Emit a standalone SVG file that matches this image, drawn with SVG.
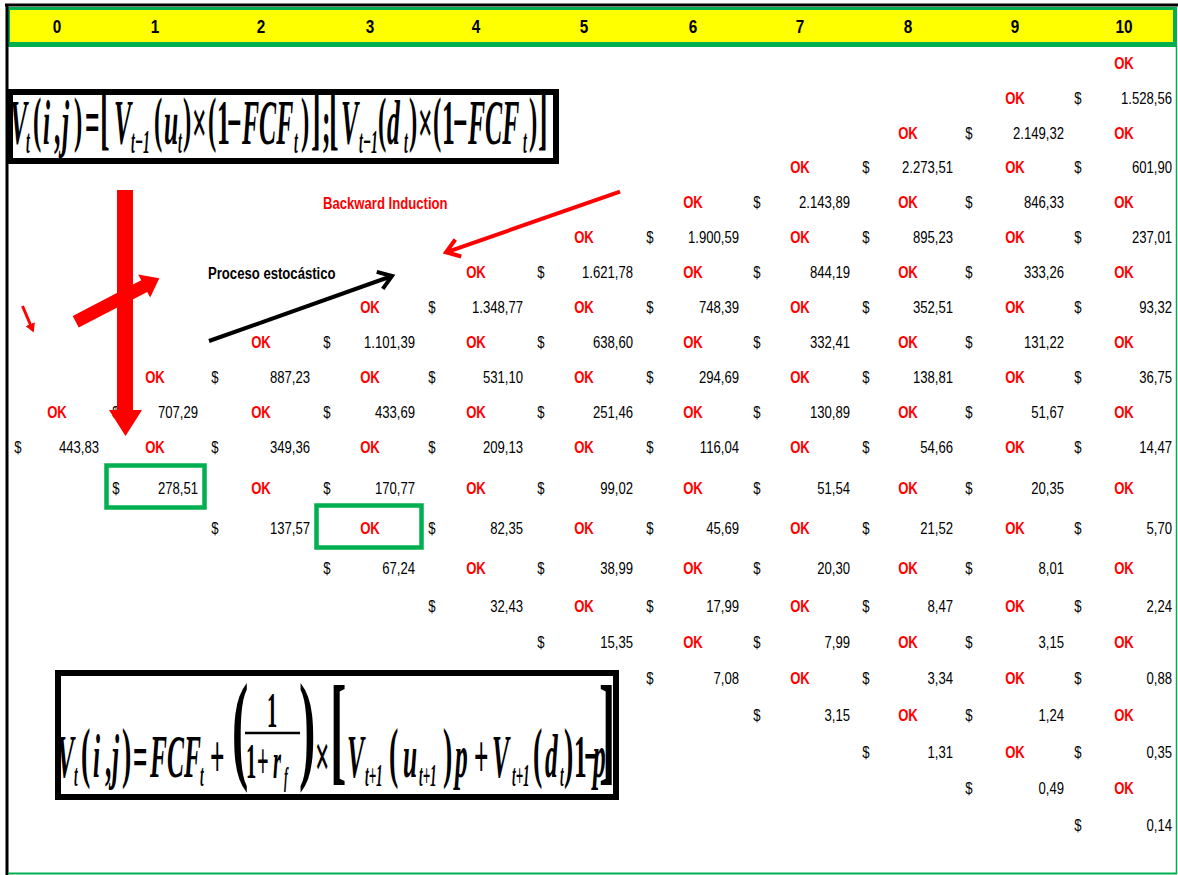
<svg xmlns="http://www.w3.org/2000/svg" width="1178" height="875" viewBox="0 0 1178 875">
<style>
.ok{font-family:"Liberation Sans",Arial,sans-serif;font-weight:bold;font-size:16px;fill:#FF0000;text-anchor:middle}
.d{font-family:"Liberation Sans",Arial,sans-serif;font-size:16px;fill:#000;text-anchor:middle}
.n{font-family:"Liberation Sans",Arial,sans-serif;font-size:16px;fill:#000;text-anchor:end}
.h{font-family:"Liberation Sans",Arial,sans-serif;font-weight:bold;font-size:18px;fill:#000;text-anchor:middle}
.lab{font-family:"Liberation Sans",Arial,sans-serif;font-weight:bold;font-size:16px}
.fi{font-family:"Liberation Serif","Times New Roman",serif;font-style:italic;font-weight:bold;fill:#000}
.fu{font-family:"Liberation Serif","Times New Roman",serif;font-weight:bold;fill:#000}
.box{fill:#fff;stroke:#000}
.hl{fill:none;stroke:#00B050;stroke-width:4.5}
</style>
<defs>
<marker id="chevBlack" markerUnits="userSpaceOnUse" markerWidth="24" markerHeight="24" refX="16" refY="12" orient="auto" viewBox="0 0 24 24"><path d="M3,3 L16,12 L3,21" fill="none" stroke="#000" stroke-width="4"/></marker>
<marker id="chevRed" markerUnits="userSpaceOnUse" markerWidth="24" markerHeight="24" refX="16" refY="12" orient="auto" viewBox="0 0 24 24"><path d="M3,3 L16,12 L3,21" fill="none" stroke="#FF0000" stroke-width="4"/></marker>
<marker id="triRed" markerUnits="userSpaceOnUse" markerWidth="10" markerHeight="10" refX="2" refY="5" orient="auto" viewBox="0 0 10 10"><path d="M0,0 L9,5 L0,10 Z" fill="#FF0000"/></marker>
</defs>
<rect width="1178" height="875" fill="#fff"/>
<g id="frame">
<rect x="8" y="7" width="1169" height="40" fill="#00B050"/>
<rect x="10" y="10" width="1163" height="32" fill="#FFFF00"/>
<line x1="5" y1="5" x2="1178" y2="5" stroke="#000" stroke-width="3"/>
<line x1="7" y1="4" x2="7" y2="875" stroke="#000" stroke-width="3"/>
<line x1="1176.5" y1="46" x2="1176.5" y2="874" stroke="#00B050" stroke-width="1.5"/>
<line x1="8" y1="873.5" x2="1177" y2="873.5" stroke="#00B050" stroke-width="2"/>
</g>
<g id="header">
<text class="h" transform="translate(57 33)scale(.85 1)">0</text>
<text class="h" transform="translate(155 33)scale(.85 1)">1</text>
<text class="h" transform="translate(261 33)scale(.85 1)">2</text>
<text class="h" transform="translate(370 33)scale(.85 1)">3</text>
<text class="h" transform="translate(476 33)scale(.85 1)">4</text>
<text class="h" transform="translate(584 33)scale(.85 1)">5</text>
<text class="h" transform="translate(693 33)scale(.85 1)">6</text>
<text class="h" transform="translate(800 33)scale(.85 1)">7</text>
<text class="h" transform="translate(908 33)scale(.85 1)">8</text>
<text class="h" transform="translate(1015 33)scale(.85 1)">9</text>
<text class="h" transform="translate(1124 33)scale(.85 1)">10</text>
</g>
<g id="formula-top">
<rect class="box" x="10" y="92" width="546" height="69" stroke-width="6"/>
<text class="fi" font-size="64" transform="translate(10 144)scale(.4 1)">V</text>
<text class="fi" font-size="34" transform="translate(26 153)scale(.4 1)">t</text>
<text class="fu" font-size="62" transform="translate(33 140)scale(.4 1)">(</text>
<text class="fi" font-size="64" transform="translate(43 144)scale(.4 1)">i</text>
<text class="fu" font-size="64" transform="translate(54 144)scale(.4 1)">,</text>
<text class="fi" font-size="64" transform="translate(62 144)scale(.4 1)">j</text>
<text class="fu" font-size="62" transform="translate(74 140)scale(.4 1)">)</text>
<text class="fu" font-size="64" transform="translate(85 144)scale(.4 1)">=</text>
<text class="fu" font-size="72" transform="translate(100 141)scale(.4 1)">[</text>
<text class="fi" font-size="64" transform="translate(114 144)scale(.4 1)">V</text>
<text class="fi" font-size="34" transform="translate(131 153)scale(.4 1)">t−1</text>
<text class="fu" font-size="62" transform="translate(154 140)scale(.4 1)">(</text>
<text class="fi" font-size="64" transform="translate(164 144)scale(.4 1)">u</text>
<text class="fi" font-size="34" transform="translate(178 153)scale(.4 1)">t</text>
<text class="fu" font-size="62" transform="translate(183 140)scale(.4 1)">)</text>
<text class="fu" font-size="64" transform="translate(192 144)scale(.4 1)">×</text>
<text class="fu" font-size="62" transform="translate(208 140)scale(.4 1)">(</text>
<text class="fu" font-size="64" transform="translate(217 144)scale(.4 1)">1</text>
<text class="fu" font-size="64" transform="translate(227 144)scale(.4 1)">−</text>
<text class="fi" font-size="64" transform="translate(242 144)scale(.4 1)">FCF</text>
<text class="fi" font-size="34" transform="translate(294 153)scale(.4 1)">t</text>
<text class="fu" font-size="62" transform="translate(301 140)scale(.4 1)">)</text>
<text class="fu" font-size="72" transform="translate(311 141)scale(.4 1)">]</text>
<text class="fu" font-size="64" transform="translate(322 144)scale(.4 1)">;</text>
<text class="fu" font-size="72" transform="translate(329 141)scale(.4 1)">[</text>
<text class="fi" font-size="64" transform="translate(341 144)scale(.4 1)">V</text>
<text class="fi" font-size="34" transform="translate(359 153)scale(.4 1)">t−1</text>
<text class="fu" font-size="62" transform="translate(378 140)scale(.4 1)">(</text>
<text class="fi" font-size="64" transform="translate(387 144)scale(.4 1)">d</text>
<text class="fi" font-size="34" transform="translate(404 153)scale(.4 1)">t</text>
<text class="fu" font-size="62" transform="translate(409 140)scale(.4 1)">)</text>
<text class="fu" font-size="64" transform="translate(418 144)scale(.4 1)">×</text>
<text class="fu" font-size="62" transform="translate(433 140)scale(.4 1)">(</text>
<text class="fu" font-size="64" transform="translate(442 144)scale(.4 1)">1</text>
<text class="fu" font-size="64" transform="translate(453 144)scale(.4 1)">−</text>
<text class="fi" font-size="64" transform="translate(468 144)scale(.4 1)">FCF</text>
<text class="fi" font-size="34" transform="translate(523 153)scale(.4 1)">t</text>
<text class="fu" font-size="62" transform="translate(529 140)scale(.4 1)">)</text>
<text class="fu" font-size="72" transform="translate(538 141)scale(.4 1)">]</text>
</g>
<g id="formula-bottom">
<rect class="box" x="58" y="673" width="558" height="124" stroke-width="6"/>
<text class="fi" font-size="62" transform="translate(57 777)scale(.41 1)">V</text>
<text class="fi" font-size="32" transform="translate(74 786)scale(.41 1)">t</text>
<text class="fu" font-size="68" transform="translate(81 775)scale(.41 1)">(</text>
<text class="fi" font-size="62" transform="translate(93 777)scale(.41 1)">i</text>
<text class="fu" font-size="62" transform="translate(105 777)scale(.41 1)">,</text>
<text class="fi" font-size="62" transform="translate(112 777)scale(.41 1)">j</text>
<text class="fu" font-size="68" transform="translate(122 775)scale(.41 1)">)</text>
<text class="fu" font-size="62" transform="translate(133 777)scale(.41 1)">=</text>
<text class="fi" font-size="62" transform="translate(150 777)scale(.41 1)">FCF</text>
<text class="fi" font-size="32" transform="translate(200 786)scale(.41 1)">t</text>
<text class="fu" font-size="62" transform="translate(210 777)scale(.41 1)">+</text>
<text class="fu" font-size="120" transform="translate(232 767)scale(.41 1)">(</text>
<text class="fu" font-size="50" transform="translate(267 727)scale(.41 1)">1</text>
<line x1="245" y1="733" x2="300" y2="733" stroke="#000" stroke-width="2.5"/>
<text class="fu" font-size="50" transform="translate(246 778)scale(.41 1)">1</text>
<text class="fu" font-size="50" transform="translate(257 778)scale(.41 1)">+</text>
<text class="fi" font-size="50" transform="translate(273 778)scale(.41 1)">r</text>
<text class="fi" font-size="28" transform="translate(284 786)scale(.41 1)">f</text>
<text class="fu" font-size="120" transform="translate(299 767)scale(.41 1)">)</text>
<text class="fu" font-size="62" transform="translate(315 777)scale(.41 1)">×</text>
<text class="fu" font-size="120" transform="translate(330 769)scale(.41 1)">[</text>
<text class="fi" font-size="62" transform="translate(347 777)scale(.41 1)">V</text>
<text class="fi" font-size="32" transform="translate(365 786)scale(.41 1)">t+1</text>
<text class="fu" font-size="68" transform="translate(389 775)scale(.41 1)">(</text>
<text class="fi" font-size="62" transform="translate(403 777)scale(.41 1)">u</text>
<text class="fi" font-size="32" transform="translate(419 786)scale(.41 1)">t+1</text>
<text class="fu" font-size="68" transform="translate(443 775)scale(.41 1)">)</text>
<text class="fi" font-size="62" transform="translate(455 777)scale(.41 1)">p</text>
<text class="fu" font-size="62" transform="translate(474 777)scale(.41 1)">+</text>
<text class="fi" font-size="62" transform="translate(492 777)scale(.41 1)">V</text>
<text class="fi" font-size="32" transform="translate(512 786)scale(.41 1)">t+1</text>
<text class="fu" font-size="68" transform="translate(533 775)scale(.41 1)">(</text>
<text class="fi" font-size="62" transform="translate(545 777)scale(.41 1)">d</text>
<text class="fi" font-size="32" transform="translate(560 786)scale(.41 1)">t</text>
<text class="fu" font-size="68" transform="translate(564 775)scale(.41 1)">)</text>
<text class="fu" font-size="62" transform="translate(574 777)scale(.41 1)">1</text>
<text class="fu" font-size="62" transform="translate(584 777)scale(.41 1)">−</text>
<text class="fi" font-size="62" transform="translate(593 777)scale(.41 1)">p</text>
<text class="fu" font-size="120" transform="translate(599 769)scale(.41 1)">]</text>
</g>
<g id="period-0">
<text class="ok" transform="translate(57 418)scale(.82 1)">OK</text>
<text class="d" transform="translate(18 453)scale(.82 1)">$</text><text class="n" transform="translate(99 453)scale(.82 1)">443,83</text>
</g>
<g id="period-1">
<text class="ok" transform="translate(155 383)scale(.82 1)">OK</text>
<text class="d" transform="translate(116 418)scale(.82 1)">$</text><text class="n" transform="translate(198 418)scale(.82 1)">707,29</text>
<text class="ok" transform="translate(155 453)scale(.82 1)">OK</text>
<text class="d" transform="translate(116 494)scale(.82 1)">$</text><text class="n" transform="translate(198 494)scale(.82 1)">278,51</text>
</g>
<g id="period-2">
<text class="ok" transform="translate(261 348)scale(.82 1)">OK</text>
<text class="d" transform="translate(215 383)scale(.82 1)">$</text><text class="n" transform="translate(310 383)scale(.82 1)">887,23</text>
<text class="ok" transform="translate(261 418)scale(.82 1)">OK</text>
<text class="d" transform="translate(215 453)scale(.82 1)">$</text><text class="n" transform="translate(310 453)scale(.82 1)">349,36</text>
<text class="ok" transform="translate(261 494)scale(.82 1)">OK</text>
<text class="d" transform="translate(215 534)scale(.82 1)">$</text><text class="n" transform="translate(310 534)scale(.82 1)">137,57</text>
</g>
<g id="period-3">
<text class="ok" transform="translate(370 313)scale(.82 1)">OK</text>
<text class="d" transform="translate(327 348)scale(.82 1)">$</text><text class="n" transform="translate(415 348)scale(.82 1)">1.101,39</text>
<text class="ok" transform="translate(370 383)scale(.82 1)">OK</text>
<text class="d" transform="translate(327 418)scale(.82 1)">$</text><text class="n" transform="translate(415 418)scale(.82 1)">433,69</text>
<text class="ok" transform="translate(370 453)scale(.82 1)">OK</text>
<text class="d" transform="translate(327 494)scale(.82 1)">$</text><text class="n" transform="translate(415 494)scale(.82 1)">170,77</text>
<text class="ok" transform="translate(370 534)scale(.82 1)">OK</text>
<text class="d" transform="translate(327 574)scale(.82 1)">$</text><text class="n" transform="translate(415 574)scale(.82 1)">67,24</text>
</g>
<g id="period-4">
<text class="ok" transform="translate(476 278)scale(.82 1)">OK</text>
<text class="d" transform="translate(432 313)scale(.82 1)">$</text><text class="n" transform="translate(523 313)scale(.82 1)">1.348,77</text>
<text class="ok" transform="translate(476 348)scale(.82 1)">OK</text>
<text class="d" transform="translate(432 383)scale(.82 1)">$</text><text class="n" transform="translate(523 383)scale(.82 1)">531,10</text>
<text class="ok" transform="translate(476 418)scale(.82 1)">OK</text>
<text class="d" transform="translate(432 453)scale(.82 1)">$</text><text class="n" transform="translate(523 453)scale(.82 1)">209,13</text>
<text class="ok" transform="translate(476 494)scale(.82 1)">OK</text>
<text class="d" transform="translate(432 534)scale(.82 1)">$</text><text class="n" transform="translate(523 534)scale(.82 1)">82,35</text>
<text class="ok" transform="translate(476 574)scale(.82 1)">OK</text>
<text class="d" transform="translate(432 612)scale(.82 1)">$</text><text class="n" transform="translate(523 612)scale(.82 1)">32,43</text>
</g>
<g id="period-5">
<text class="ok" transform="translate(584 243)scale(.82 1)">OK</text>
<text class="d" transform="translate(541 278)scale(.82 1)">$</text><text class="n" transform="translate(633 278)scale(.82 1)">1.621,78</text>
<text class="ok" transform="translate(584 313)scale(.82 1)">OK</text>
<text class="d" transform="translate(541 348)scale(.82 1)">$</text><text class="n" transform="translate(633 348)scale(.82 1)">638,60</text>
<text class="ok" transform="translate(584 383)scale(.82 1)">OK</text>
<text class="d" transform="translate(541 418)scale(.82 1)">$</text><text class="n" transform="translate(633 418)scale(.82 1)">251,46</text>
<text class="ok" transform="translate(584 453)scale(.82 1)">OK</text>
<text class="d" transform="translate(541 494)scale(.82 1)">$</text><text class="n" transform="translate(633 494)scale(.82 1)">99,02</text>
<text class="ok" transform="translate(584 534)scale(.82 1)">OK</text>
<text class="d" transform="translate(541 574)scale(.82 1)">$</text><text class="n" transform="translate(633 574)scale(.82 1)">38,99</text>
<text class="ok" transform="translate(584 612)scale(.82 1)">OK</text>
<text class="d" transform="translate(541 648)scale(.82 1)">$</text><text class="n" transform="translate(633 648)scale(.82 1)">15,35</text>
</g>
<g id="period-6">
<text class="ok" transform="translate(693 208)scale(.82 1)">OK</text>
<text class="d" transform="translate(650 243)scale(.82 1)">$</text><text class="n" transform="translate(739 243)scale(.82 1)">1.900,59</text>
<text class="ok" transform="translate(693 278)scale(.82 1)">OK</text>
<text class="d" transform="translate(650 313)scale(.82 1)">$</text><text class="n" transform="translate(739 313)scale(.82 1)">748,39</text>
<text class="ok" transform="translate(693 348)scale(.82 1)">OK</text>
<text class="d" transform="translate(650 383)scale(.82 1)">$</text><text class="n" transform="translate(739 383)scale(.82 1)">294,69</text>
<text class="ok" transform="translate(693 418)scale(.82 1)">OK</text>
<text class="d" transform="translate(650 453)scale(.82 1)">$</text><text class="n" transform="translate(739 453)scale(.82 1)">116,04</text>
<text class="ok" transform="translate(693 494)scale(.82 1)">OK</text>
<text class="d" transform="translate(650 534)scale(.82 1)">$</text><text class="n" transform="translate(739 534)scale(.82 1)">45,69</text>
<text class="ok" transform="translate(693 574)scale(.82 1)">OK</text>
<text class="d" transform="translate(650 612)scale(.82 1)">$</text><text class="n" transform="translate(739 612)scale(.82 1)">17,99</text>
<text class="ok" transform="translate(693 648)scale(.82 1)">OK</text>
<text class="d" transform="translate(650 684)scale(.82 1)">$</text><text class="n" transform="translate(739 684)scale(.82 1)">7,08</text>
</g>
<g id="period-7">
<text class="ok" transform="translate(800 173)scale(.82 1)">OK</text>
<text class="d" transform="translate(757 208)scale(.82 1)">$</text><text class="n" transform="translate(850 208)scale(.82 1)">2.143,89</text>
<text class="ok" transform="translate(800 243)scale(.82 1)">OK</text>
<text class="d" transform="translate(757 278)scale(.82 1)">$</text><text class="n" transform="translate(850 278)scale(.82 1)">844,19</text>
<text class="ok" transform="translate(800 313)scale(.82 1)">OK</text>
<text class="d" transform="translate(757 348)scale(.82 1)">$</text><text class="n" transform="translate(850 348)scale(.82 1)">332,41</text>
<text class="ok" transform="translate(800 383)scale(.82 1)">OK</text>
<text class="d" transform="translate(757 418)scale(.82 1)">$</text><text class="n" transform="translate(850 418)scale(.82 1)">130,89</text>
<text class="ok" transform="translate(800 453)scale(.82 1)">OK</text>
<text class="d" transform="translate(757 494)scale(.82 1)">$</text><text class="n" transform="translate(850 494)scale(.82 1)">51,54</text>
<text class="ok" transform="translate(800 534)scale(.82 1)">OK</text>
<text class="d" transform="translate(757 574)scale(.82 1)">$</text><text class="n" transform="translate(850 574)scale(.82 1)">20,30</text>
<text class="ok" transform="translate(800 612)scale(.82 1)">OK</text>
<text class="d" transform="translate(757 648)scale(.82 1)">$</text><text class="n" transform="translate(850 648)scale(.82 1)">7,99</text>
<text class="ok" transform="translate(800 684)scale(.82 1)">OK</text>
<text class="d" transform="translate(757 721)scale(.82 1)">$</text><text class="n" transform="translate(850 721)scale(.82 1)">3,15</text>
</g>
<g id="period-8">
<text class="ok" transform="translate(908 139)scale(.82 1)">OK</text>
<text class="d" transform="translate(866 173)scale(.82 1)">$</text><text class="n" transform="translate(953 173)scale(.82 1)">2.273,51</text>
<text class="ok" transform="translate(908 208)scale(.82 1)">OK</text>
<text class="d" transform="translate(866 243)scale(.82 1)">$</text><text class="n" transform="translate(953 243)scale(.82 1)">895,23</text>
<text class="ok" transform="translate(908 278)scale(.82 1)">OK</text>
<text class="d" transform="translate(866 313)scale(.82 1)">$</text><text class="n" transform="translate(953 313)scale(.82 1)">352,51</text>
<text class="ok" transform="translate(908 348)scale(.82 1)">OK</text>
<text class="d" transform="translate(866 383)scale(.82 1)">$</text><text class="n" transform="translate(953 383)scale(.82 1)">138,81</text>
<text class="ok" transform="translate(908 418)scale(.82 1)">OK</text>
<text class="d" transform="translate(866 453)scale(.82 1)">$</text><text class="n" transform="translate(953 453)scale(.82 1)">54,66</text>
<text class="ok" transform="translate(908 494)scale(.82 1)">OK</text>
<text class="d" transform="translate(866 534)scale(.82 1)">$</text><text class="n" transform="translate(953 534)scale(.82 1)">21,52</text>
<text class="ok" transform="translate(908 574)scale(.82 1)">OK</text>
<text class="d" transform="translate(866 612)scale(.82 1)">$</text><text class="n" transform="translate(953 612)scale(.82 1)">8,47</text>
<text class="ok" transform="translate(908 648)scale(.82 1)">OK</text>
<text class="d" transform="translate(866 684)scale(.82 1)">$</text><text class="n" transform="translate(953 684)scale(.82 1)">3,34</text>
<text class="ok" transform="translate(908 721)scale(.82 1)">OK</text>
<text class="d" transform="translate(866 758)scale(.82 1)">$</text><text class="n" transform="translate(953 758)scale(.82 1)">1,31</text>
</g>
<g id="period-9">
<text class="ok" transform="translate(1015 104)scale(.82 1)">OK</text>
<text class="d" transform="translate(969 139)scale(.82 1)">$</text><text class="n" transform="translate(1064 139)scale(.82 1)">2.149,32</text>
<text class="ok" transform="translate(1015 173)scale(.82 1)">OK</text>
<text class="d" transform="translate(969 208)scale(.82 1)">$</text><text class="n" transform="translate(1064 208)scale(.82 1)">846,33</text>
<text class="ok" transform="translate(1015 243)scale(.82 1)">OK</text>
<text class="d" transform="translate(969 278)scale(.82 1)">$</text><text class="n" transform="translate(1064 278)scale(.82 1)">333,26</text>
<text class="ok" transform="translate(1015 313)scale(.82 1)">OK</text>
<text class="d" transform="translate(969 348)scale(.82 1)">$</text><text class="n" transform="translate(1064 348)scale(.82 1)">131,22</text>
<text class="ok" transform="translate(1015 383)scale(.82 1)">OK</text>
<text class="d" transform="translate(969 418)scale(.82 1)">$</text><text class="n" transform="translate(1064 418)scale(.82 1)">51,67</text>
<text class="ok" transform="translate(1015 453)scale(.82 1)">OK</text>
<text class="d" transform="translate(969 494)scale(.82 1)">$</text><text class="n" transform="translate(1064 494)scale(.82 1)">20,35</text>
<text class="ok" transform="translate(1015 534)scale(.82 1)">OK</text>
<text class="d" transform="translate(969 574)scale(.82 1)">$</text><text class="n" transform="translate(1064 574)scale(.82 1)">8,01</text>
<text class="ok" transform="translate(1015 612)scale(.82 1)">OK</text>
<text class="d" transform="translate(969 648)scale(.82 1)">$</text><text class="n" transform="translate(1064 648)scale(.82 1)">3,15</text>
<text class="ok" transform="translate(1015 684)scale(.82 1)">OK</text>
<text class="d" transform="translate(969 721)scale(.82 1)">$</text><text class="n" transform="translate(1064 721)scale(.82 1)">1,24</text>
<text class="ok" transform="translate(1015 758)scale(.82 1)">OK</text>
<text class="d" transform="translate(969 794)scale(.82 1)">$</text><text class="n" transform="translate(1064 794)scale(.82 1)">0,49</text>
</g>
<g id="period-10">
<text class="ok" transform="translate(1124 69)scale(.82 1)">OK</text>
<text class="d" transform="translate(1078 104)scale(.82 1)">$</text><text class="n" transform="translate(1172 104)scale(.82 1)">1.528,56</text>
<text class="ok" transform="translate(1124 139)scale(.82 1)">OK</text>
<text class="d" transform="translate(1078 173)scale(.82 1)">$</text><text class="n" transform="translate(1172 173)scale(.82 1)">601,90</text>
<text class="ok" transform="translate(1124 208)scale(.82 1)">OK</text>
<text class="d" transform="translate(1078 243)scale(.82 1)">$</text><text class="n" transform="translate(1172 243)scale(.82 1)">237,01</text>
<text class="ok" transform="translate(1124 278)scale(.82 1)">OK</text>
<text class="d" transform="translate(1078 313)scale(.82 1)">$</text><text class="n" transform="translate(1172 313)scale(.82 1)">93,32</text>
<text class="ok" transform="translate(1124 348)scale(.82 1)">OK</text>
<text class="d" transform="translate(1078 383)scale(.82 1)">$</text><text class="n" transform="translate(1172 383)scale(.82 1)">36,75</text>
<text class="ok" transform="translate(1124 418)scale(.82 1)">OK</text>
<text class="d" transform="translate(1078 453)scale(.82 1)">$</text><text class="n" transform="translate(1172 453)scale(.82 1)">14,47</text>
<text class="ok" transform="translate(1124 494)scale(.82 1)">OK</text>
<text class="d" transform="translate(1078 534)scale(.82 1)">$</text><text class="n" transform="translate(1172 534)scale(.82 1)">5,70</text>
<text class="ok" transform="translate(1124 574)scale(.82 1)">OK</text>
<text class="d" transform="translate(1078 612)scale(.82 1)">$</text><text class="n" transform="translate(1172 612)scale(.82 1)">2,24</text>
<text class="ok" transform="translate(1124 648)scale(.82 1)">OK</text>
<text class="d" transform="translate(1078 684)scale(.82 1)">$</text><text class="n" transform="translate(1172 684)scale(.82 1)">0,88</text>
<text class="ok" transform="translate(1124 721)scale(.82 1)">OK</text>
<text class="d" transform="translate(1078 758)scale(.82 1)">$</text><text class="n" transform="translate(1172 758)scale(.82 1)">0,35</text>
<text class="ok" transform="translate(1124 794)scale(.82 1)">OK</text>
<text class="d" transform="translate(1078 831)scale(.82 1)">$</text><text class="n" transform="translate(1172 831)scale(.82 1)">0,14</text>
</g>
<g id="highlights">
<rect class="hl" x="106.5" y="465.5" width="98" height="42"/>
<rect class="hl" x="316.5" y="505.5" width="105" height="42"/>
</g>
<g id="labels">
<text class="lab" fill="#FF0000" transform="translate(323 209)scale(.82 1)">Backward Induction</text>
<text class="lab" fill="#000" transform="translate(208 279)scale(.82 1)">Proceso estocástico</text>
</g>
<g id="connectors">
<line x1="620" y1="191.7" x2="446" y2="252.3" stroke="#FF0000" stroke-width="4" marker-end="url(#chevRed)"/>
<line x1="209" y1="341" x2="392" y2="276" stroke="#000" stroke-width="4" marker-end="url(#chevBlack)"/>
<line x1="22.5" y1="306" x2="31" y2="326" stroke="#FF0000" stroke-width="3" marker-end="url(#triRed)"/>
<polygon points="72.7,315.9 141.2,280.3 138.2,274.6 159.3,278.3 150.2,297.6 147.2,291.9 78.7,327.5" fill="#FF0000"/>
<polygon points="117,190 133,190 133,410 142,410 125.5,436 109,410 117,410" fill="#FF0000"/>
</g>
</svg>
